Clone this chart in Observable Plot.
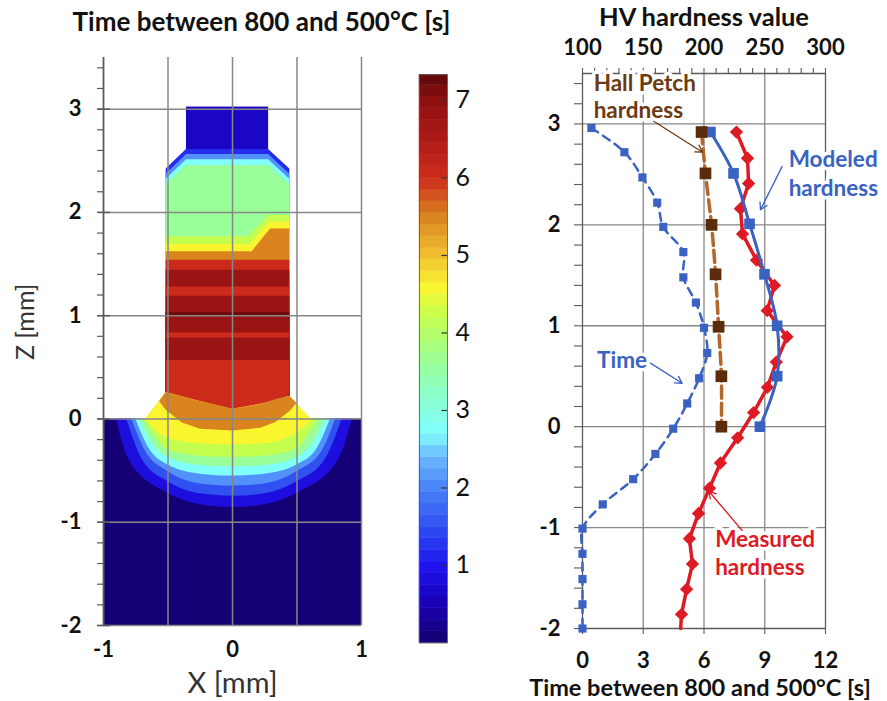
<!DOCTYPE html>
<html>
<head>
<meta charset="utf-8">
<script src="https://cdn.jsdelivr.net/npm/d3@7"></script>
<script src="https://cdn.jsdelivr.net/npm/@observablehq/plot@0.6"></script>
<style>
  html, body { margin: 0; padding: 0; background: #fff; }
  #root { position: relative; width: 887px; height: 701px; overflow: hidden; background: #fff; }
  .panel { position: absolute; top: 0; }
</style>
</head>
<body>
<div id="root">
  <div class="panel" id="left" style="left:0;width:400px"></div>
  <div class="panel" id="bar" style="left:400px;width:100px"></div>
  <div class="panel" id="right" style="left:490px;width:397px"></div>
</div>
<script>
// ---------------- LEFT PANEL DATA (contour of time between 800 and 500 °C) ----------------
const leftTitle = "Time between 800 and 500°C [s]";
const xTicksLeft = [-1, 0, 1];
const zTicksLeft = [-2, -1, 0, 1, 2, 3];
const xGridLeft = [-1, -0.5, 0, 0.5, 1];
const zMinorLeft = [-2,-1.8,-1.6,-1.4,-1.2,-1,-0.8,-0.6,-0.4,-0.2,0,0.2,0.4,0.6,0.8,1,1.2,1.4,1.6,1.8,2,2.2,2.4,2.6,2.8,3,3.2,3.4];

// jet-like colour map of the colour bar
const jetStops  = [0, 0.5, 1, 1.5, 2, 2.4, 2.7, 3.2, 3.6, 4.2, 4.6, 5.0, 5.5, 6.0, 6.6, 7.0, 7.35];
const jetColors = ["#14006e","#1a00b4","#1e14f0","#3050f0","#4a84f8","#6cb8ff","#80ffff","#8cffcc","#99ff99","#c4ff50","#fbf530","#f0c030","#da8420","#cc2b1b","#a81818","#8e1010","#5a0808"];
const colorbarTicks = [1, 2, 3, 4, 5, 6, 7];
const colorbarLevels = [0,0.15,0.3,0.45,0.6,0.75,0.9,1.05,1.2,1.35,1.5,1.65,1.8,1.95,2.1,2.25,2.4,2.55,2.7,2.85,3.0,3.15,3.3,3.45,3.6,3.75,3.9,4.05,4.2,4.35,4.5,4.65,4.8,4.95,5.1,5.25,5.4,5.55,5.7,5.85,6.0,6.15,6.3,6.45,6.6,6.75,6.9,7.05,7.2];

// substrate (base plate) and weld cap
const substrateRect = [{x1: -1, x2: 1, z1: -2, z2: 0, v: 0.05}];
const capRect = [{x1: -0.357, x2: 0.28, z1: 2.6, z2: 3.02, v: 0.65}];

// iso-lines in the substrate, outermost first: [X, Z]
const substrateBands = [
  {v: 0.85, pts: [[-0.90,0],[-0.80,-0.40],[-0.5,-0.72],[-0.25,-0.83],[0,-0.857],[0.25,-0.83],[0.5,-0.72],[0.82,-0.40],[0.93,0]]},
  {v: 1.5,  pts: [[-0.82,0],[-0.70,-0.39],[-0.5,-0.608],[-0.25,-0.725],[0,-0.748],[0.25,-0.725],[0.5,-0.608],[0.72,-0.39],[0.85,0]]},
  {v: 2.1,  pts: [[-0.78,0],[-0.68,-0.30],[-0.5,-0.51],[-0.25,-0.63],[0,-0.65],[0.25,-0.63],[0.5,-0.51],[0.70,-0.30],[0.80,0]]},
  {v: 2.75, pts: [[-0.75,0],[-0.65,-0.28],[-0.5,-0.447],[-0.25,-0.535],[0,-0.553],[0.25,-0.535],[0.5,-0.447],[0.66,-0.28],[0.76,0]]},
  {v: 3.6,  pts: [[-0.72,0],[-0.63,-0.22],[-0.5,-0.372],[-0.25,-0.45],[0,-0.463],[0.25,-0.45],[0.5,-0.372],[0.63,-0.22],[0.72,0]]},
  {v: 4.2,  pts: [[-0.69,0],[-0.60,-0.17],[-0.5,-0.30],[-0.25,-0.36],[0,-0.372],[0.25,-0.36],[0.5,-0.29],[0.58,-0.17],[0.67,0]]},
  {v: 4.6,  pts: [[-0.67,0],[-0.60,-0.10],[-0.5,-0.188],[-0.25,-0.24],[0,-0.252],[0.25,-0.24],[0.45,-0.17],[0.55,-0.09],[0.63,0]]}
];

// bead layers, each painted from its top boundary down: [X, Z]
const beadLayers = [
  {v: 1.2,  top: [[-0.514,2.42],[-0.357,2.61],[0.28,2.61],[0.444,2.42]]},
  {v: 2.1,  top: [[-0.514,2.37],[-0.357,2.56],[0.28,2.56],[0.444,2.37]]},
  {v: 2.75, top: [[-0.514,2.32],[-0.357,2.51],[0.28,2.51],[0.444,2.32]]},
  {v: 3.6,  top: [[-0.514,2.27],[-0.357,2.455],[0.28,2.455],[0.444,2.27]]},
  {v: 4.2,  top: [[-0.514,1.764],[0.127,1.764],[0.28,1.97],[0.444,1.97]]},
  {v: 4.6,  top: [[-0.514,1.69],[0.14,1.69],[0.29,1.905],[0.444,1.905]]},
  {v: 5.5,  top: [[-0.514,1.62],[0.153,1.62],[0.295,1.84],[0.444,1.84]]},
  {v: 6.0,  top: [[-0.514,1.537],[0.444,1.537]]},
  {v: 6.8,  top: [[-0.514,1.44],[0.444,1.44]]},
  {v: 6.0,  top: [[-0.514,1.278],[0.444,1.278]]},
  {v: 6.8,  top: [[-0.514,1.188],[0.444,1.188]]},
  {v: 7.2,  top: [[-0.514,1.032],[0.444,1.032]]},
  {v: 6.8,  top: [[-0.514,1.0],[0.444,1.0]]},
  {v: 6.0,  top: [[-0.514,0.832],[0.444,0.832]]},
  {v: 6.8,  top: [[-0.514,0.783],[0.444,0.783]]},
  {v: 6.0,  top: [[-0.514,0.566],[0.444,0.566]]}
];
// toe flare of the bead (yellow) with the red/orange boundary as its top
const flareYellow = {v: 4.6, pts: [[-0.674,0],[-0.514,0.255],[-0.25,0.17],[0,0.093],[0.25,0.15],[0.444,0.22],[0.61,0]]};
// orange zone: [X, lower Z, upper Z]
const orangeZone = {v: 5.5, pts: [[-0.565,0.17,0.17],[-0.514,0.085,0.255],[-0.39,-0.04,0.215],[-0.248,-0.10,0.17],[0,-0.117,0.093],[0.217,-0.09,0.14],[0.333,-0.036,0.185],[0.444,0.07,0.22],[0.50,0.15,0.15]]};

// ---------------- RIGHT PANEL DATA ----------------
const timeTicks = [0, 3, 6, 9, 12];
const hvTicks = [100, 150, 200, 250, 300];
const hvMinor = [100,110,120,130,140,150,160,170,180,190,200,210,220,230,240,250,260,270,280,290,300];
const zTicksRight = [-2, -1, 0, 1, 2, 3];
const zMinorRight = [-2,-1.8,-1.6,-1.4,-1.2,-1,-0.8,-0.6,-0.4,-0.2,0,0.2,0.4,0.6,0.8,1,1.2,1.4,1.6,1.8,2,2.2,2.4,2.6,2.8,3,3.2,3.4];

const timeZ = [2.96, 2.72, 2.47, 2.22, 1.98, 1.73, 1.48, 1.23, 0.98, 0.73, 0.48, 0.23, -0.02, -0.27, -0.52, -0.77, -1.01, -1.26, -1.51, -1.76, -2.0];
const timeS = [0.44, 2.07, 2.96, 3.69, 3.99, 4.98, 4.98, 5.6, 6.0, 6.16, 5.76, 5.17, 4.48, 3.6, 2.5, 1.0, 0, 0, 0, 0, 0];

const hallPetchZ  = [2.92, 2.51, 2.0, 1.51, 0.99, 0.50, 0.0];
const hallPetchHV = [198, 201.2, 206.2, 209.5, 212, 214.3, 214.3];

const modeledZ  = [2.92, 2.51, 2.01, 1.51, 1.0, 0.5, 0.0];
const modeledHV = [205.3, 224.3, 237.5, 249.8, 260.2, 260.2, 246];

const measuredZ  = [2.92, 2.66, 2.41, 2.16, 1.91, 1.65, 1.40, 1.15, 0.89, 0.64, 0.39, 0.14, -0.11, -0.36, -0.61, -0.86, -1.11, -1.36, -1.61, -1.86];
const measuredHV = [226.7, 235.8, 236.7, 230, 231.7, 243.2, 258, 252, 268.3, 259.5, 252.2, 240.8, 227.7, 213.5, 204.5, 195.5, 188, 190.5, 185.7, 181.5];
const measuredTailZ = -2.0, measuredTailHV = 180.8;

const BLUE = "#3a62c2", RED = "#de1a24", BROWN_DARK = "#5a2c0c", BROWN_LINE = "#b5662a", BROWN_TEXT = "#6b3a12";
const annotations = [
  {lines: ["Hall Petch", "hardness"], x: 0.55, z: [3.40, 3.13], color: BROWN_TEXT, arrow: [3.5, 3.03, 5.93, 2.72]},
  {lines: ["Modeled", "hardness"], x: 10.18, z: [2.64, 2.36], color: BLUE, arrow: [9.86, 2.58, 8.79, 2.15]},
  {lines: ["Time"], x: 0.72, z: [0.65], color: BLUE, arrow: [3.36, 0.63, 4.92, 0.43]},
  {lines: ["Measured", "hardness"], x: 6.55, z: [-1.125, -1.40], color: RED, arrow: [7.89, -1.03, 6.24, -0.64]}
];

// ---------------- DRAWING ----------------
const FONT = "Lato, 'Open Sans', sans-serif";
const INK = "#111";
const GRID = "#878787";
const AX = "#5a5a5a";
const colorOpts = {type: "linear", domain: jetStops, range: jetColors, interpolate: "rgb"};
const baseStyle = {background: "transparent", overflow: "visible", fontFamily: FONT};

const leftPlot = Plot.plot({
  width: 400, height: 701,
  marginTop: 57, marginBottom: 76, marginLeft: 103, marginRight: 39,
  x: {domain: [-1, 1], axis: null},
  y: {domain: [-2, 3.5], axis: null},
  color: colorOpts,
  style: baseStyle,
  marks: [
    Plot.rect(substrateRect, {x1: "x1", x2: "x2", y1: "z1", y2: "z2", fill: "v"}),
    ...substrateBands.map(b => Plot.areaY(b.pts, {x: d => d[0], y1: d => d[1], y2: () => 0, fill: () => b.v, curve: "monotone-x"})),
    Plot.rect(capRect, {x1: "x1", x2: "x2", y1: "z1", y2: "z2", fill: "v"}),
    ...beadLayers.map(L => Plot.areaY(L.top, {x: d => d[0], y1: () => 0, y2: d => d[1], fill: () => L.v})),
    Plot.areaY(flareYellow.pts, {x: d => d[0], y1: () => 0, y2: d => d[1], fill: () => flareYellow.v}),
    Plot.areaY(orangeZone.pts, {x: d => d[0], y1: d => d[1], y2: d => d[2], fill: () => orangeZone.v}),
    Plot.ruleX(xGridLeft, {y1: -2, y2: 3.5, stroke: GRID, strokeWidth: 1.5}),
    Plot.ruleY(zTicksLeft, {x1: -1, x2: 1, stroke: GRID, strokeWidth: 1.5}),
    Plot.ruleY(zMinorLeft, {x1: -1 - 6 / 129, x2: -1, stroke: AX, strokeWidth: 1.2}),
    Plot.ruleY(zTicksLeft, {x1: -1 - 6 / 129, x2: -1 + 7 / 129, stroke: AX, strokeWidth: 1.5}),
    Plot.ruleX([-1], {y1: -2, y2: 3.5, stroke: AX, strokeWidth: 1.5}),
    Plot.text(zTicksLeft, {x: -1, y: d => d, text: d => String(d), textAnchor: "end", dx: -22, fontSize: 22, fontWeight: "bold", fill: INK}),
    Plot.text(xTicksLeft, {x: d => d, y: -2, text: d => String(d), dy: 24, fontSize: 22, fontWeight: "bold", fill: INK}),
    Plot.text(["X [mm]"], {x: 0, y: -2, text: d => d, dy: 58, fontSize: 29, fill: "#333"}),
    Plot.text(["Z [mm]"], {x: -1, y: 0.94, text: d => d, dx: -78, rotate: -90, fontSize: 25, fill: "#333"}),
    Plot.text([leftTitle], {frameAnchor: "top", lineAnchor: "middle", text: d => d, dx: 29, dy: -35, fontSize: 26, fontWeight: "bold", fill: INK})
  ]
});
document.getElementById("left").appendChild(leftPlot);

const barPlot = Plot.plot({
  width: 100, height: 701,
  marginTop: 74.4, marginBottom: 58.5, marginLeft: 19, marginRight: 53,
  x: {domain: [0, 1], axis: null},
  y: {domain: [0, 7.33], axis: null},
  color: colorOpts,
  style: baseStyle,
  marks: [
    Plot.rect(colorbarLevels, {x1: 0, x2: 1, y1: d => d, y2: d => Math.min(d + 0.15, 7.33), fill: d => d + 0.075, stroke: d => d + 0.075, strokeWidth: 0.5}),
    Plot.frame({stroke: "#555", strokeWidth: 0.8}),
    Plot.ruleY(colorbarTicks, {x1: 0.8, x2: 1.0, stroke: "#333", strokeWidth: 1.2}),
    Plot.text(colorbarTicks, {x: 1, y: d => d, text: d => String(d), textAnchor: "start", dx: 8, fontSize: 25, fill: INK})
  ]
});
document.getElementById("bar").appendChild(barPlot);

const hvToT = hv => (hv - 100) * 12 / 200;
const timeRows = timeZ.map((z, i) => ({z, t: timeS[i]}));
const hpRows = hallPetchZ.map((z, i) => ({z, t: hvToT(hallPetchHV[i])}));
const modRows = modeledZ.map((z, i) => ({z, t: hvToT(modeledHV[i])}));
const measRows = measuredZ.map((z, i) => ({z, t: hvToT(measuredHV[i])}));
const measLine = measRows.concat([{z: measuredTailZ, t: hvToT(measuredTailHV)}]);

const annotMarks = [];
for (const a of annotations) {
  annotMarks.push(Plot.arrow([a.arrow], {x1: d => d[0], y1: d => d[1], x2: d => d[2], y2: d => d[3], stroke: a.color, strokeWidth: 1.3, headLength: 9, bend: 0}));
}
for (const a of annotations) {
  annotMarks.push(Plot.text(a.lines.map((s, i) => ({s, z: a.z[i]})), {x: a.x, y: "z", text: "s", textAnchor: "start", fontSize: 22.5, fontWeight: "bold", fill: a.color, stroke: "white", strokeWidth: 7}));
}

const rightPlot = Plot.plot({
  width: 397, height: 701,
  marginTop: 73, marginBottom: 73, marginLeft: 92, marginRight: 62,
  x: {domain: [0, 12], axis: null},
  y: {domain: [-2, 3.5], axis: null},
  style: baseStyle,
  marks: [
    Plot.ruleX([3, 6, 9], {y1: -2, y2: 3.5, stroke: GRID, strokeWidth: 1.3}),
    Plot.ruleY([-1, 0, 1, 2, 3], {x1: 0, x2: 12, stroke: GRID, strokeWidth: 1.3}),
    Plot.ruleY([-2, 3.5], {x1: 0, x2: 12, stroke: AX, strokeWidth: 1.3}),
    Plot.ruleX([0, 12], {y1: -2, y2: 3.5, stroke: AX, strokeWidth: 1.3}),
    Plot.ruleY(zMinorRight, {x1: -8 / 20.25, x2: 0, stroke: AX, strokeWidth: 1.1}),
    Plot.ruleX(hvMinor, {x: d => hvToT(d), y1: 3.5, y2: 3.5 + 5 / 100.9, stroke: AX, strokeWidth: 1.1}),
    Plot.ruleX(timeTicks, {y1: -2 - 6 / 100.9, y2: -2, stroke: AX, strokeWidth: 1.1}),
    Plot.text(zTicksRight, {x: 0, y: d => d, text: d => String(d), textAnchor: "end", dx: -22, fontSize: 22, fontWeight: "bold", fill: INK}),
    Plot.text(timeTicks, {x: d => d, y: -2, text: d => String(d), dy: 32, fontSize: 22, fontWeight: "bold", fill: INK}),
    Plot.text(hvTicks, {x: d => hvToT(d), y: 3.5, text: d => String(d), dy: -26, fontSize: 22, fontWeight: "bold", fill: INK}),
    Plot.text(["HV hardness value"], {frameAnchor: "top", lineAnchor: "middle", text: d => d, dy: -55.5, fontSize: 25.5, fontWeight: "bold", fill: INK}),
    Plot.text([leftTitle], {frameAnchor: "bottom", lineAnchor: "middle", text: d => d, dx: -4, dy: 60, fontSize: 23.5, fontWeight: "bold", fill: INK}),
    // Time
    Plot.line(timeRows, {x: "t", y: "z", stroke: BLUE, strokeWidth: 2.5, strokeDasharray: "8,6", curve: "catmull-rom"}),
    Plot.dot(timeRows, {x: "t", y: "z", symbol: "square", r: 4.6, fill: BLUE}),
    // Measured
    Plot.line(measLine, {x: "t", y: "z", stroke: RED, strokeWidth: 3.5}),
    Plot.dot(measRows, {x: "t", y: "z", symbol: "square", r: 5.3, rotate: 45, fill: RED}),
    // Modeled
    Plot.line(modRows, {x: "t", y: "z", stroke: BLUE, strokeWidth: 3, curve: "catmull-rom"}),
    Plot.dot(modRows, {x: "t", y: "z", symbol: "square", r: 6, fill: BLUE}),
    // Hall Petch
    Plot.line(hpRows, {x: "t", y: "z", stroke: BROWN_LINE, strokeWidth: 3.5, strokeDasharray: "12,5", curve: "catmull-rom"}),
    Plot.dot(hpRows, {x: "t", y: "z", symbol: "square", r: 6.6, fill: BROWN_DARK}),
    ...annotMarks
  ]
});
document.getElementById("right").appendChild(rightPlot);
</script>
</body>
</html>
